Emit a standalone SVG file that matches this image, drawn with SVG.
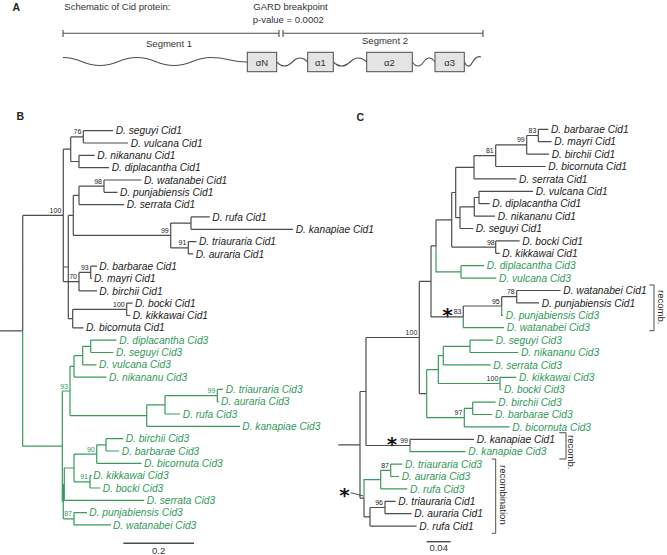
<svg xmlns="http://www.w3.org/2000/svg" width="667" height="555" viewBox="0 0 667 555">
<style>
.k{fill:none;stroke:#4d4d4d;stroke-width:1.2}
.g{fill:none;stroke:#3a9a5c;stroke-width:1.2}
.t{font-family:"Liberation Sans",Arial,sans-serif;font-style:italic;font-size:10.2px;fill:#222}
.tg{fill:#2f9a58}
.bs{font-family:"Liberation Sans",Arial,sans-serif;font-size:7px;fill:#222;text-anchor:end}
.bsg{fill:#2f9a58}
.pl{font-family:"Liberation Sans",Arial,sans-serif;font-weight:bold;font-size:10.5px;fill:#222}
.at{font-family:"Liberation Sans",Arial,sans-serif;font-size:9.5px;fill:#333}
.box{fill:#e4e4e4;stroke:#4d4d4d;stroke-width:1}
.ast{font-family:"DejaVu Sans",sans-serif;font-weight:bold;font-size:20px;fill:#111;text-anchor:middle}
.rc{font-family:"Liberation Sans",Arial,sans-serif;font-size:9.5px;fill:#222}
</style>

<!-- Panel A -->
<g id="panelA">
<text class="pl" x="12.5" y="10.7">A</text>
<text class="at" x="64.3" y="10">Schematic of Cid protein:</text>
<text class="at" x="253.3" y="10">GARD breakpoint</text>
<text class="at" x="252.7" y="23.3">p-value = 0.0002</text>
<g id="segment-scale" class="k" style="stroke-width:1.1">
<path d="M63 33.3 H279 M283 33.3 H483 M63 30 V37 M279 30 V37 M283 30 V37 M483 30 V37"/>
</g>
<text class="at" x="169" y="47.3" text-anchor="middle">Segment 1</text>
<text class="at" x="385" y="44.3" text-anchor="middle">Segment 2</text>
<g id="linkers" class="k" style="stroke-width:1.1">
<path d="M63 57.5 C81 57.5 82 65.5 100 65.5 S119 57.5 137 57.5 S156 65.5 174 65.5 S193 57.5 211 57.5 S229 62 247.3 62"/>
<path d="M276.7 62 Q284.5 70 292.3 62 T307.7 62"/>
<path d="M333.3 62 Q341.6 70 350 62 T366.7 62"/>
<path d="M412.3 62 Q418 70 423.6 62 T435 62"/>
<path d="M464.3 62 Q468.3 70 472.3 62.5 T481 57"/>
</g>
<g id="helix-aN"><rect class="box" x="247.3" y="52.3" width="29.4" height="19.4"/><text class="at" x="262" y="65.5" text-anchor="middle">αN</text></g>
<g id="helix-a1"><rect class="box" x="307.7" y="52.3" width="25.6" height="19.4"/><text class="at" x="320.5" y="65.5" text-anchor="middle">α1</text></g>
<g id="helix-a2"><rect class="box" x="366.7" y="52.3" width="45.6" height="19.4"/><text class="at" x="389.5" y="65.5" text-anchor="middle">α2</text></g>
<g id="helix-a3"><rect class="box" x="435" y="52.3" width="29.3" height="19.4"/><text class="at" x="449.7" y="65.5" text-anchor="middle">α3</text></g>
</g>

<!-- Panel B -->
<text class="pl" x="16.5" y="120">B</text>
<g id="B-connectors">
<path class="k" d="M0 330.8 H22.7 M22.7 215.4 V330.8 M22.7 215.4 H63.3 M63.3 149.2 V281.6
M63.3 149.2 H70.7 M70.7 136.9 V161.5
M70.7 136.9 H83.3 M83.3 130.7 V143 M83.3 130.7 H113 M83.3 143 H128
M70.7 161.5 H79 M79 155.3 V167.7 M79 155.3 H94.7 M79 167.7 H109
M63.3 267 H68.3 M68.3 215.4 V318.6
M68.3 215.4 H73.3 M73.3 195.4 V235.4
M73.3 195.4 H79 M79 186.2 V204.6
M79 186.2 H104 M104 180 V192.3 M104 180 H141.5 M104 192.3 H117.5
M79 204.6 H124
M73.3 235.4 H170.7 M170.7 223.1 V247.8
M170.7 223.1 H191 M191 216.9 V229.3 M191 216.9 H209.7 M191 229.3 H293
M170.7 247.8 H188.3 M188.3 241.6 V253.9 M188.3 241.6 H196.5 M188.3 253.9 H193.2
M63.3 281.6 H79 M79 272.4 V290.9
M79 272.4 H90.7 M90.7 266.2 V278.5 M90.7 266.2 H97 M90.7 278.5 H92
M79 290.9 H97
M68.3 318.6 H72.7 M72.7 309.3 V327.8
M72.7 309.3 H126.7 M126.7 303.2 V315.5 M126.7 303.2 H132.5 M126.7 315.5 H130.2
M72.7 327.8 H83.5"/>
<path class="g" d="M22.7 330.8 V446.2 H62.3 M62.3 391 V501.5
M62.3 391 H70 M70 366.3 V415.6
M70 366.3 H74 M74 355.6 V377.1
M74 355.6 H82.7 M82.7 346.3 V364.8
M82.7 346.3 H90.7 M90.7 340.1 V352.5 M90.7 340.1 H116.5 M90.7 352.5 H113.3
M82.7 364.8 H96.5
M74 377.1 H106.5
M70 415.6 H146.7 M146.7 404.8 V426.4
M146.7 404.8 H165 M165 395.6 V414
M165 395.6 H217.3 M217.3 389.4 V401.7 M217.3 389.4 H223 M217.3 401.7 H218.8
M165 414 H180
M146.7 426.4 H240
M62.3 501.5 H63.3 M63.3 484.2 V518.8
M63.3 484.2 H64.3 M64.3 468 V500.3
M64.3 468 H74 M74 454.1 V481.8
M74 454.1 H96.7 M96.7 444.8 V463.3
M96.7 444.8 H106 M106 438.7 V451 M106 438.7 H123.2 M106 451 H119.2
M96.7 463.3 H141.5
M74 481.8 H90 M90 475.7 V488 M90 475.7 H91.5 M90 488 H100.2
M64.3 500.3 H144.2
M63.3 518.8 H74 M74 512.6 V524.9 M74 512.6 H87 M74 524.9 H111"/>
<path class="k" d="M123.3 543.3 H194" style="stroke-width:1.4"/>
</g>
<g id="B-support">
<text class="bs" x="61.3" y="212.9">100</text>
<text class="bs" x="81.3" y="134.4">76</text>
<text class="bs" x="102" y="183.7">98</text>
<text class="bs" x="168.7" y="232.9">99</text>
<text class="bs" x="186.3" y="245.3">91</text>
<text class="bs" x="88.7" y="269.9">93</text>
<text class="bs" x="77" y="279.1">70</text>
<text class="bs" x="124.7" y="306.8">100</text>
<text class="bs bsg" x="68" y="388.5">93</text>
<text class="bs bsg" x="215.3" y="393.1">99</text>
<text class="bs bsg" x="94.7" y="451.6">90</text>
<text class="bs bsg" x="88" y="479.3">91</text>
<text class="bs bsg" x="72" y="516.3">87</text>
</g>
<g id="B-leaves">
<g id="B-seguyi1"><text class="t" x="115.7" y="134.3">D. seguyi Cid1</text></g>
<g id="B-vulcana1"><text class="t" x="130.7" y="146.6">D. vulcana Cid1</text></g>
<g id="B-nikananu1"><text class="t" x="97.3" y="158.9">D. nikananu Cid1</text></g>
<g id="B-diplacantha1"><text class="t" x="111.7" y="171.3">D. diplacantha Cid1</text></g>
<g id="B-watanabei1"><text class="t" x="144" y="183.6">D. watanabei Cid1</text></g>
<g id="B-punjabiensis1"><text class="t" x="120" y="195.9">D. punjabiensis Cid1</text></g>
<g id="B-serrata1"><text class="t" x="126.7" y="208.2">D. serrata Cid1</text></g>
<g id="B-rufa1"><text class="t" x="212.3" y="220.5">D. rufa Cid1</text></g>
<g id="B-kanapiae1"><text class="t" x="295.7" y="232.9">D. kanapiae Cid1</text></g>
<g id="B-triauraria1"><text class="t" x="199" y="245.2">D. triauraria Cid1</text></g>
<g id="B-auraria1"><text class="t" x="195.7" y="257.5">D. auraria Cid1</text></g>
<g id="B-barbarae1"><text class="t" x="99.3" y="269.8">D. barbarae Cid1</text></g>
<g id="B-mayri1"><text class="t" x="94" y="282.1">D. mayri Cid1</text></g>
<g id="B-birchii1"><text class="t" x="99.3" y="294.5">D. birchii Cid1</text></g>
<g id="B-bocki1"><text class="t" x="135" y="306.8">D. bocki Cid1</text></g>
<g id="B-kikkawai1"><text class="t" x="132.7" y="319.1">D. kikkawai Cid1</text></g>
<g id="B-bicornuta1"><text class="t" x="86" y="331.4">D. bicornuta Cid1</text></g>
<g id="B-diplacantha3"><text class="t tg" x="119.3" y="343.7">D. diplacantha Cid3</text></g>
<g id="B-seguyi3"><text class="t tg" x="116" y="356.1">D. seguyi Cid3</text></g>
<g id="B-vulcana3"><text class="t tg" x="99" y="368.4">D. vulcana Cid3</text></g>
<g id="B-nikananu3"><text class="t tg" x="109" y="380.7">D. nikananu Cid3</text></g>
<g id="B-triauraria3"><text class="t tg" x="225.7" y="393">D. triauraria Cid3</text></g>
<g id="B-auraria3"><text class="t tg" x="221" y="405.3">D. auraria Cid3</text></g>
<g id="B-rufa3"><text class="t tg" x="182.7" y="417.6">D. rufa Cid3</text></g>
<g id="B-kanapiae3"><text class="t tg" x="242.3" y="430">D. kanapiae Cid3</text></g>
<g id="B-birchii3"><text class="t tg" x="125.7" y="442.3">D. birchii Cid3</text></g>
<g id="B-barbarae3"><text class="t tg" x="121.7" y="454.6">D. barbarae Cid3</text></g>
<g id="B-bicornuta3"><text class="t tg" x="144" y="466.9">D. bicornuta Cid3</text></g>
<g id="B-kikkawai3"><text class="t tg" x="93.3" y="479.3">D. kikkawai Cid3</text></g>
<g id="B-bocki3"><text class="t tg" x="102.7" y="491.6">D. bocki Cid3</text></g>
<g id="B-serrata3"><text class="t tg" x="146.7" y="503.9">D. serrata Cid3</text></g>
<g id="B-punjabiensis3"><text class="t tg" x="89.3" y="516.2">D. punjabiensis Cid3</text></g>
<g id="B-watanabei3"><text class="t tg" x="113" y="528.5">D. watanabei Cid3</text></g>
</g>
<g id="B-scale"><text class="at" x="158.6" y="554" text-anchor="middle">0.2</text></g>

<!-- Panel C -->
<text class="pl" x="356.5" y="120.5">C</text>
<g id="C-connectors">
<path class="k" d="M338.3 444.9 H360 M360 391.5 V498.2
M360 391.5 H366 M366 337.5 V445.5
M366 337.5 H419.3 M419.3 281.4 V393.6 M419.3 393.6 H426.7
M419.3 281.4 H431 M431 245.9 V316.9
M431 245.9 H436 M436 219.8 V245.9
M436 219.8 H451.7 M451.7 192.5 V247.1
M451.7 192.5 H455.7 M455.7 167.3 V217.7
M455.7 167.3 H474 M474 155.7 V178.9
M474 155.7 H495.7 M495.7 144.8 V166.5
M495.7 144.8 H526.7 M526.7 135.5 V154.1
M526.7 135.5 H538.3 M538.3 129.3 V141.7 M538.3 129.3 H548.3 M538.3 141.7 H551.6
M526.7 154.1 H549
M495.7 166.5 H545.6
M474 178.9 H516.3
M455.7 217.7 H460 M460 206.8 V228.5
M460 206.8 H474.3 M474.3 197.5 V216.1
M474.3 197.5 H479 M479 191.3 V203.7 M479 191.3 H533 M479 203.7 H489.6
M474.3 216.1 H495
M460 228.5 H473
M451.7 247.1 H495.7 M495.7 240.9 V253.3 M495.7 240.9 H519.6 M495.7 253.3 H499.6
M431 316.9 H463.3 M463.3 306 V316.9
M463.3 306 H501.7 M501.7 296.7 V306
M501.7 296.7 H516.7 M516.7 290.5 V302.9 M516.7 290.5 H560.6 M516.7 302.9 H539
M366 445.5 H410 M410 439.3 V445.5 M410 439.3 H474
M360 498.2 H364 M364 498.2 V516.8
M364 516.8 H370 M370 507.5 V526.1
M370 507.5 H385 M385 501.3 V513.7 M385 501.3 H395.6 M385 513.7 H411.6
M370 526.1 H416.6"/>
<path class="g" d="M436 245.9 V271.9 H461 M461 265.7 V278.1 M461 265.7 H484 M461 278.1 H496.3
M501.7 306 V315.3 H503
M463.3 316.9 V327.7 H504
M426.7 369.6 V417.6
M426.7 369.6 H438.3 M438.3 355.6 V383.5
M438.3 355.6 H443.3 M443.3 346.3 V364.9
M443.3 346.3 H470 M470 340.1 V352.5 M470 340.1 H493 M470 352.5 H518.3
M443.3 364.9 H490.6
M438.3 383.5 H500 M500 377.3 V389.7 M500 377.3 H516.3 M500 389.7 H501.3
M426.7 417.6 H464.3 M464.3 408.3 V426.9
M464.3 408.3 H472.7 M472.7 402.1 V414.5 M472.7 402.1 H495.6 M472.7 414.5 H492.3
M464.3 426.9 H509.6
M410 445.5 V451.7 H465.6
M364 498.2 V479.6 H380.7 M380.7 470.3 V488.9
M380.7 470.3 H390.7 M390.7 464.1 V476.5 M390.7 464.1 H402.3 M390.7 476.5 H399
M380.7 488.9 H407.3"/>
<path class="k" d="M350.7 492.7 L363.5 496" style="stroke-width:1"/>
<path class="k" d="M649.3 285 H654 V330.7 H649.3 M559.3 432.7 H566 V459 H559.3 M491.7 459 H495.7 V533.3 H491.7" style="stroke-width:1"/>
<path class="k" d="M426.7 541.7 H450.7" style="stroke-width:1.4"/>
</g>
<g id="C-support">
<text class="bs" x="536.3" y="133">83</text>
<text class="bs" x="524.7" y="142.3">99</text>
<text class="bs" x="493.7" y="153.2">81</text>
<text class="bs" x="494.7" y="244.6">98</text>
<text class="bs" x="514.7" y="294.2">78</text>
<text class="bs" x="499.7" y="303.5">95</text>
<text class="bs" x="461.5" y="314.4">83</text>
<text class="bs" x="498.3" y="381">100</text>
<text class="bs" x="462.3" y="415.3">97</text>
<text class="bs" x="417.3" y="335">100</text>
<text class="bs" x="408" y="443">99</text>
<text class="bs" x="389" y="467.8">87</text>
<text class="bs" x="383" y="505">96</text>
</g>
<g id="C-asterisks">
<text class="ast" x="447.5" y="322">*</text>
<text class="ast" x="392" y="451">*</text>
<text class="ast" x="344.5" y="502">*</text>
</g>
<g id="C-leaves">
<g id="C-barbarae1"><text class="t" x="551" y="132.9">D. barbarae Cid1</text></g>
<g id="C-mayri1"><text class="t" x="554.3" y="145.3">D. mayri Cid1</text></g>
<g id="C-birchii1"><text class="t" x="551.7" y="157.7">D. birchii Cid1</text></g>
<g id="C-bicornuta1"><text class="t" x="548.3" y="170.1">D. bicornuta Cid1</text></g>
<g id="C-serrata1"><text class="t" x="519" y="182.5">D. serrata Cid1</text></g>
<g id="C-vulcana1"><text class="t" x="535.7" y="194.9">D. vulcana Cid1</text></g>
<g id="C-diplacantha1"><text class="t" x="492.3" y="207.3">D. diplacantha Cid1</text></g>
<g id="C-nikananu1"><text class="t" x="497.7" y="219.7">D. nikananu Cid1</text></g>
<g id="C-seguyi1"><text class="t" x="475.7" y="232.1">D. seguyi Cid1</text></g>
<g id="C-bocki1"><text class="t" x="522.3" y="244.5">D. bocki Cid1</text></g>
<g id="C-kikkawai1"><text class="t" x="502.3" y="256.9">D. kikkawai Cid1</text></g>
<g id="C-diplacantha3"><text class="t tg" x="486.7" y="269.3">D. diplacantha Cid3</text></g>
<g id="C-vulcana3"><text class="t tg" x="499" y="281.7">D. vulcana Cid3</text></g>
<g id="C-watanabei1"><text class="t" x="563.3" y="294.1">D. watanabei Cid1</text></g>
<g id="C-punjabiensis1"><text class="t" x="541.7" y="306.5">D. punjabiensis Cid1</text></g>
<g id="C-punjabiensis3"><text class="t tg" x="505.7" y="318.9">D. punjabiensis Cid3</text></g>
<g id="C-watanabei3"><text class="t tg" x="506.7" y="331.3">D. watanabei Cid3</text></g>
<g id="C-seguyi3"><text class="t tg" x="495.7" y="343.7">D. seguyi Cid3</text></g>
<g id="C-nikananu3"><text class="t tg" x="521" y="356.1">D. nikananu Cid3</text></g>
<g id="C-serrata3"><text class="t tg" x="493.3" y="368.5">D. serrata Cid3</text></g>
<g id="C-kikkawai3"><text class="t tg" x="519" y="380.9">D. kikkawai Cid3</text></g>
<g id="C-bocki3"><text class="t tg" x="504" y="393.3">D. bocki Cid3</text></g>
<g id="C-birchii3"><text class="t tg" x="498.3" y="405.7">D. birchii Cid3</text></g>
<g id="C-barbarae3"><text class="t tg" x="495" y="418.1">D. barbarae Cid3</text></g>
<g id="C-bicornuta3"><text class="t tg" x="512.3" y="430.5">D. bicornuta Cid3</text></g>
<g id="C-kanapiae1"><text class="t" x="476.7" y="442.9">D. kanapiae Cid1</text></g>
<g id="C-kanapiae3"><text class="t tg" x="468.3" y="455.3">D. kanapiae Cid3</text></g>
<g id="C-triauraria3"><text class="t tg" x="405" y="467.7">D. triauraria Cid3</text></g>
<g id="C-auraria3"><text class="t tg" x="401.7" y="480.1">D. auraria Cid3</text></g>
<g id="C-rufa3"><text class="t tg" x="410" y="492.5">D. rufa Cid3</text></g>
<g id="C-triauraria1"><text class="t" x="398.3" y="504.9">D. triauraria Cid1</text></g>
<g id="C-auraria1"><text class="t" x="414.3" y="517.3">D. auraria Cid1</text></g>
<g id="C-rufa1"><text class="t" x="419.3" y="529.7">D. rufa Cid1</text></g>
</g>
<g id="C-brackets">
<text class="rc" transform="translate(658,290) rotate(90)">recomb.</text>
<text class="rc" transform="translate(568.3,435) rotate(90)">recomb.</text>
<text class="rc" transform="translate(500,465) rotate(90)">recombination</text>
</g>
<g id="C-scale"><text class="at" x="438.7" y="551" text-anchor="middle">0.04</text></g>
</svg>
